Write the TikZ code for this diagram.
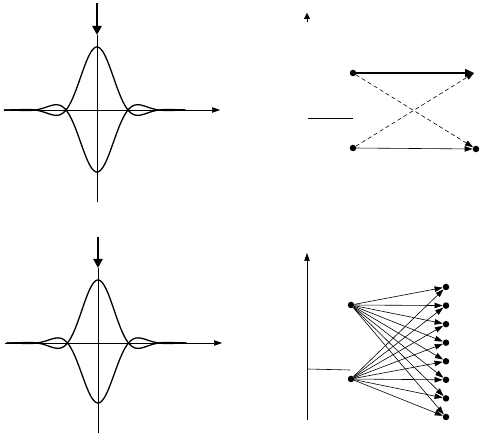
\documentclass[tikz,border=0pt]{standalone}
\usetikzlibrary{arrows.meta}
\begin{document}
\begin{tikzpicture}[x=1pt, y=-1pt,
    declare function={sincw(\t)=sin(180*\t)/(pi*\t)*exp(-\t*\t/2);},
    axis/.style={semithick},
    wave/.style={line width=1.3pt, line join=round},
    dot/.style={circle, fill, inner sep=0pt, minimum size=6.5pt},
    arr/.style={line width=0.6pt, -{Triangle[length=8pt,width=5.5pt]}},
    bigarr/.style={line width=2.5pt, -{Triangle[length=9pt,width=9pt]}},
    dasharr/.style={arr, dash pattern=on 4pt off 3pt}
  ]
  \useasboundingbox (0,0) rectangle (483,435);

  % Top left: pulse
  \draw[axis, arr] (4,110) -- (220,110);
  \draw[axis] (97,35) -- (97,202);
  \draw[bigarr] (97,3) -- (97,35);
  \draw[wave] plot[domain=-3:2.85, samples=120, variable=\t] ({97+31*\t},{110-63*sincw(\t)});
  \draw[wave] plot[domain=-3:2.85, samples=120, variable=\t] ({97+31*\t},{110+62*sincw(\t)});

  % Bottom left: pulse
  \draw[axis, arr] (5,343) -- (222,343);
  \draw[axis] (98,268) -- (98,433);
  \draw[bigarr] (98,237) -- (98,268);
  \draw[wave] plot[domain=-3:2.9, samples=120, variable=\t] ({98+30.5*\t},{343-63*sincw(\t)});
  \draw[wave] plot[domain=-3:2.9, samples=120, variable=\t] ({98+30.5*\t},{343+60*sincw(\t)});

  % Top right: two states
  \draw[-{Triangle[length=6pt,width=6pt]}] (307,22) -- (307,13);
  \draw[axis] (308,118) -- (353,118);
  \node[dot] (a1) at (353,73) {};
  \node[dot] (a2) at (353,148) {};
  \coordinate (b1) at (474,73);
  \node[dot] (b2) at (476,149) {};
  \draw[line width=1.8pt, -{Triangle[length=9pt,width=8pt]}] (a1) -- (b1);
  \draw[dasharr] (a1) -- (b2);
  \draw[dasharr] (a2) -- (b1);
  \draw[arr] (a2) -- (b2);

  % Bottom right: many states
  \draw[axis, arr] (307,420) -- (307,253);
  \draw[axis] (307,369) -- (350,370);
  \node[dot] (l1) at (351,305) {};
  \node[dot] (l2) at (351,379) {};
  \foreach \i in {1,...,8}
    \node[dot] (r\i) at (446,{287+18.57*(\i-1)}) {};
  \foreach \i in {1,...,8} {
    \draw[arr] (l1) -- (r\i);
    \draw[arr] (l2) -- (r\i);
  }
\end{tikzpicture}
\end{document}
